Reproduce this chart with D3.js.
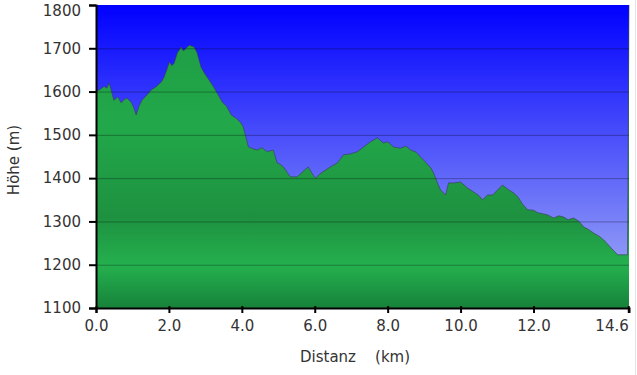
<!DOCTYPE html>
<html>
<head>
<meta charset="utf-8">
<script src="https://cdn.jsdelivr.net/npm/d3@7"></script>
<style>
  body { margin: 0; background: #fff; }
  text { font-family: "DejaVu Sans", Verdana, sans-serif; fill: #333; }
</style>
</head>
<body>
<svg id="profile" width="637" height="375"></svg>
<script>
// distance (km) and elevation (m) read from the profile
const distKm = [0.00, 0.11, 0.22, 0.30, 0.36, 0.42, 0.49, 0.60, 0.69, 0.78,
  0.85, 0.96, 1.04, 1.10, 1.18, 1.26, 1.40, 1.52, 1.65, 1.79,
  1.86, 1.92, 2.01, 2.08, 2.14, 2.23, 2.34, 2.40, 2.47, 2.56,
  2.69, 2.77, 2.88, 2.97, 3.10, 3.20, 3.32, 3.46, 3.58, 3.71,
  3.85, 3.98, 4.04, 4.18, 4.30, 4.42, 4.55, 4.70, 4.86, 4.97,
  5.05, 5.14, 5.33, 5.52, 5.66, 5.74, 5.82, 5.92, 6.02, 6.12,
  6.21, 6.43, 6.62, 6.79, 6.98, 7.17, 7.34, 7.53, 7.72, 7.88,
  8.00, 8.16, 8.35, 8.50, 8.63, 8.78, 8.90, 9.05, 9.18, 9.26,
  9.36, 9.45, 9.59, 9.67, 9.81, 10.00, 10.10, 10.19, 10.36, 10.50,
  10.60, 10.74, 10.88, 11.02, 11.15, 11.32, 11.45, 11.57, 11.70, 11.84,
  12.00, 12.12, 12.25, 12.39, 12.55, 12.70, 12.83, 12.95, 13.10, 13.25,
  13.38, 13.50, 13.65, 13.80, 13.93, 14.05, 14.18, 14.31, 14.58, 14.62];
const elevM = [1600, 1605, 1612, 1608, 1620, 1602, 1580, 1588, 1574, 1582,
  1585, 1576, 1562, 1546, 1566, 1580, 1592, 1604, 1611, 1622,
  1632, 1645, 1668, 1660, 1665, 1689, 1703, 1694, 1700, 1707,
  1703, 1690, 1657, 1643, 1627, 1614, 1597, 1576, 1566, 1546,
  1538, 1527, 1518, 1472, 1468, 1465, 1470, 1461, 1465, 1435,
  1432, 1426, 1403, 1403, 1414, 1420, 1426, 1412, 1400, 1408,
  1414, 1426, 1435, 1454, 1456, 1461, 1472, 1484, 1493, 1481,
  1484, 1472, 1469, 1474, 1465, 1460, 1449, 1436, 1424, 1412,
  1390, 1373, 1361, 1389, 1389, 1391, 1384, 1377, 1368, 1360,
  1350, 1361, 1361, 1373, 1384, 1373, 1366, 1357, 1340, 1327,
  1326, 1320, 1318, 1315, 1308, 1313, 1310, 1304, 1308, 1300,
  1287, 1282, 1273, 1266, 1257, 1246, 1234, 1223, 1223, 1800];
const xTicks = [0, 2, 4, 6, 8, 10, 12, 14.6];
const yTicks = [1100, 1200, 1300, 1400, 1500, 1600, 1700, 1800];

const profile = distKm.map((d, i) => ({ d: d, h: elevM[i] }));

const svg = d3.select('#profile');
const margin = { top: 5, right: 8, bottom: 67, left: 96 };
const width = +svg.attr('width');
const height = +svg.attr('height');
const innerWidth = width - margin.left - margin.right;
const innerHeight = height - margin.top - margin.bottom;

const xScale = d3.scaleLinear().domain([0, 14.62]).range([0, innerWidth]);
const yScale = d3.scaleLinear().domain([1100, 1800]).range([innerHeight, 0]);

const defs = svg.append('defs');
const sky = defs.append('linearGradient').attr('id', 'sky')
  .attr('x1', 0).attr('y1', 0).attr('x2', 0).attr('y2', 1);
sky.append('stop').attr('offset', '0%').attr('stop-color', '#0000ff');
sky.append('stop').attr('offset', '100%').attr('stop-color', '#aab6f4');

const grass = defs.append('linearGradient').attr('id', 'grass')
  .attr('gradientUnits', 'userSpaceOnUse')
  .attr('x1', 0).attr('y1', 0).attr('x2', 0).attr('y2', innerHeight);
[['0%', '#1e9a44'], ['40%', '#22a84a'], ['70%', '#1e9140'],
 ['86%', '#24b04e'], ['100%', '#17823a']].forEach(s => {
  grass.append('stop').attr('offset', s[0]).attr('stop-color', s[1]);
});

const g = svg.append('g')
  .attr('transform', `translate(${margin.left},${margin.top})`);

g.append('rect')
  .attr('width', innerWidth)
  .attr('height', innerHeight)
  .attr('fill', 'url(#sky)');

const area = d3.area()
  .x(p => xScale(p.d))
  .y0(innerHeight)
  .y1(p => yScale(p.h));

g.append('path')
  .datum(profile)
  .attr('d', area)
  .attr('fill', 'url(#grass)');

g.append('path')
  .datum(profile)
  .attr('d', d3.line().x(p => xScale(p.d)).y(p => yScale(p.h)))
  .attr('fill', 'none')
  .attr('stroke', '#3a3a50')
  .attr('stroke-opacity', 0.6)
  .attr('stroke-width', 1);

// grid lines sit on top of both fills
g.append('g').selectAll('line').data(yTicks.slice(1, -1))
  .enter().append('line')
    .attr('x1', 0).attr('x2', innerWidth)
    .attr('y1', d => yScale(d) + 0.5).attr('y2', d => yScale(d) + 0.5)
    .attr('stroke', '#000').attr('stroke-opacity', 0.3);

const yAxis = d3.axisLeft(yScale)
  .tickValues(yTicks)
  .tickFormat(d3.format('d'))
  .tickSize(7)
  .tickPadding(8);

const yAxisG = g.append('g').call(yAxis);
yAxisG.select('.domain').attr('stroke-width', 2);
yAxisG.selectAll('.tick line').attr('stroke-width', 2);
yAxisG.selectAll('text')
  .attr('font-size', 15).attr('fill', '#333');
// top label is pushed down so it stays inside the picture
yAxisG.selectAll('.tick').filter(d => d === 1800).select('text').attr('dy', '0.72em');

const xAxis = d3.axisBottom(xScale)
  .tickValues(xTicks)
  .tickFormat(d3.format('.1f'))
  .tickSize(5)
  .tickPadding(7);

const xAxisG = g.append('g').call(xAxis)
  .attr('transform', `translate(0,${innerHeight})`);
xAxisG.select('.domain').attr('stroke-width', 2);
xAxisG.selectAll('.tick line').attr('stroke-width', 2).attr('y1', -2);
xAxisG.selectAll('text')
  .attr('font-size', 15).attr('fill', '#333');
xAxisG.selectAll('.tick').filter(d => d === 14.6).select('text')
  .attr('text-anchor', 'end').attr('x', 0);

svg.append('text')
  .attr('x', 300)
  .attr('y', 362)
  .attr('font-size', 15)
  .style('white-space', 'pre')
  .text('Distanz    (km)');

svg.append('text')
  .attr('transform', 'translate(19,160) rotate(-90)')
  .attr('text-anchor', 'middle')
  .attr('font-size', 15)
  .text('Höhe (m)');

svg.append('line')
  .attr('x1', 635.5).attr('x2', 635.5).attr('y1', 0).attr('y2', height)
  .attr('stroke', '#e4e4e4');
</script>
</body>
</html>
